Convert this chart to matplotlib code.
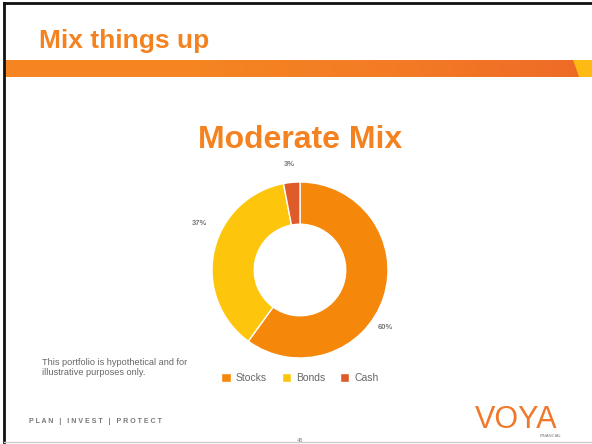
import numpy as np
import matplotlib.pyplot as plt
from matplotlib.colors import LinearSegmentedColormap
from matplotlib.patches import Polygon

plt.rcParams['font.family'] = ['Liberation Sans', 'DejaVu Sans']

# Chart data
categories = ["Stocks", "Bonds", "Cash"]
values = [60, 37, 3]
colors = ["#F5870B", "#FDC60D", "#DF5B2A"]
title = "Moderate Mix"

# where the percent labels sit (angle in degrees, radius as fraction of donut)
label_angles = [-34, 155, 96]
label_radii = [1.17, 1.26, 1.2]

fig = plt.figure(figsize=(5.92, 4.44), dpi=100)

# Background layer in pixel coordinates for the slide decoration
bg = fig.add_axes([0, 0, 1, 1])
bg.axis("off")

# orange header band with gradient
band_cmap = LinearSegmentedColormap.from_list("band", ["#F68522", "#F58421", "#F37B25", "#EE6A27"])
grad = np.linspace(0, 1, 256).reshape(1, -1)
bg.imshow(grad, extent=[5, 592, 77, 60], aspect="auto", cmap=band_cmap, zorder=1)
bg.add_patch(Polygon([[573, 60], [592, 60], [592, 77], [579, 77], [576, 68]],
                     closed=True, facecolor="#FDBA13", edgecolor="none", zorder=2))
bg.set_xlim(0, 592)
bg.set_ylim(444, 0)

# slide border
bg.plot([4, 4], [444, 3], color="#111111", lw=2, zorder=3)
bg.plot([4, 592], [3, 3], color="#111111", lw=2, zorder=3)
bg.plot([4, 592], [442, 442], color="#CCCCCC", lw=1, zorder=3)

bg.text(39, 48, "Mix things up", fontsize=19, fontweight="bold", color="#F58220", va="baseline")
bg.text(300, 148, title, fontsize=23, fontweight="bold", color="#F58220", ha="center", va="baseline")

bg.text(42, 358, "This portfolio is hypothetical and for\nillustrative purposes only.",
        fontsize=6.6, color="#666666", va="top", linespacing=1.15)
bg.text(29, 421, "P L A N   |   I N V E S T   |   P R O T E C T", fontsize=5,
        fontweight="bold", color="#777777", va="center")
bg.text(516, 428, "VOYA", fontsize=22, color="#F0782A", ha="center", va="baseline")
bg.text(561, 436, "FINANCIAL", fontsize=3, color="#777777", ha="right", va="center")
bg.text(300, 440, "48", fontsize=4, color="#888888", ha="center", va="center")

# Donut chart
ax = fig.add_axes([212 / 592, (444 - 358) / 444, 176 / 592, 176 / 444])
wedges, _ = ax.pie(values, colors=colors, startangle=90, counterclock=False, radius=1,
                   wedgeprops=dict(width=0.48, edgecolor="white", linewidth=1))
ax.set_xlim(-1, 1)
ax.set_ylim(-1, 1)
ax.set_aspect("equal")

for v, a, r in zip(values, label_angles, label_radii):
    ax.text(r * np.cos(np.radians(a)), r * np.sin(np.radians(a)), f"{v}%",
            fontsize=5.5, fontweight="bold", color="#777777", ha="center", va="center", clip_on=False)

fig.legend(wedges, categories, loc="center", bbox_to_anchor=(300 / 592, 1 - 378 / 444), ncol=3,
           frameon=False, fontsize=7.5, handlelength=0.9, handleheight=0.9, handletextpad=0.5,
           columnspacing=1.4, labelcolor="#666666")

fig.savefig("out.png", dpi=100)
